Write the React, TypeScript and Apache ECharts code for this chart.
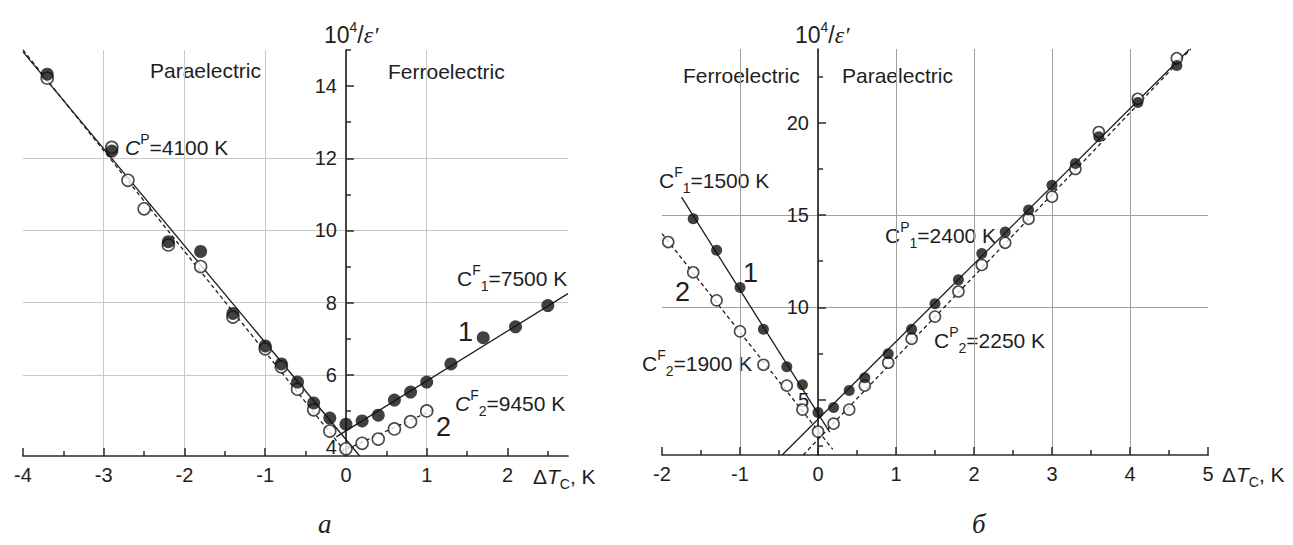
import React, { useEffect, useRef } from 'react';
import * as echarts from 'echarts';

// ---------- Panel а ----------
const aFilledX = [-3.7, -2.9, -2.2, -1.8, -1.4, -1.0, -0.8, -0.6, -0.4, -0.2, 0, 0.2, 0.4, 0.6, 0.8, 1.0, 1.3, 1.7, 2.1, 2.5];
const aFilledY = [14.33, 12.2, 9.69, 9.42, 7.7, 6.8, 6.3, 5.8, 5.22, 4.8, 4.63, 4.72, 4.88, 5.3, 5.52, 5.8, 6.3, 7.03, 7.33, 7.92];
const aOpenX = [-3.7, -2.9, -2.7, -2.5, -2.2, -1.8, -1.4, -1.0, -0.8, -0.6, -0.4, -0.2, 0, 0.2, 0.4, 0.6, 0.8, 1.0];
const aOpenY = [14.22, 12.3, 11.39, 10.6, 9.6, 9.0, 7.6, 6.72, 6.22, 5.6, 5.03, 4.44, 3.95, 4.1, 4.22, 4.5, 4.7, 5.0];
const aFitPara1 = [[-4, 14.95], [0.17, 3.75]];
const aFitPara2 = [[-4, 15.0], [-0.02, 3.9]];
const aFitFerro1 = [[-0.12, 4.28], [2.75, 8.25]];
const aFitFerro2 = [[-0.07, 3.86], [1.1, 5.05]];
const aXLabels = [-4, -3, -2, -1, 0, 1, 2];
const aXMinor = [-3.5, -2.5, -1.5, -0.5, 0.5, 1.5, 2.5];
const aYLabels = [4, 6, 8, 10, 12, 14];
const aYMinor = [5, 7, 9, 11, 13, 15];

// ---------- Panel б ----------
const bFilledX = [-1.6, -1.3, -1.0, -0.7, -0.4, -0.2, 0, 0.2, 0.4, 0.6, 0.9, 1.2, 1.5, 1.8, 2.1, 2.4, 2.7, 3.0, 3.3, 3.6, 4.1, 4.6];
const bFilledY = [14.8, 13.1, 11.08, 8.81, 6.78, 5.81, 4.3, 4.57, 5.49, 6.19, 7.49, 8.81, 10.2, 11.49, 12.92, 14.08, 15.27, 16.62, 17.8, 19.24, 21.1, 23.1];
const bOpenX = [-1.92, -1.6, -1.3, -1.0, -0.7, -0.4, -0.2, 0, 0.2, 0.4, 0.6, 0.9, 1.2, 1.5, 1.8, 2.1, 2.4, 2.7, 3.0, 3.3, 3.6, 4.1, 4.6];
const bOpenY = [13.54, 11.9, 10.38, 8.7, 6.89, 5.76, 4.46, 3.27, 3.7, 4.46, 5.76, 7.0, 8.3, 9.5, 10.86, 12.3, 13.5, 14.8, 16.0, 17.5, 19.5, 21.3, 23.5];
const bFitFerro1 = [[-1.75, 15.97], [0.15, 3.24]];
const bFitFerro2 = [[-2, 14.0], [0.19, 2.3]];
const bFitPara1 = [[-0.46, 2.0], [4.76, 23.97]];
const bFitPara2 = [[-0.19, 2.0], [4.78, 24.0]];
const bXLabels = [-2, -1, 0, 1, 2, 3, 4, 5];
const bXMinor = [-1.5, -0.5, 0.5, 1.5, 2.5, 3.5, 4.5];
const bYLabels = [5, 10, 15, 20];
const bYMinor = [2.5, 7.5, 12.5, 17.5, 22.5];

const SANS = 'Liberation Sans, Arial, sans-serif';
const SERIF = 'Liberation Serif, Times New Roman, serif';
const INK = '#1e1e1e';

const GRID_A = { left: 23, top: 50, width: 545, height: 406 };
const GRID_B = { left: 662, top: 49, width: 546, height: 406 };
const A_X = [-4, 2.75];
const A_Y = [3.75, 15];
const B_X = [-2, 5];
const B_Y = [2, 24];

const zip = (xs: number[], ys: number[]) => xs.map((x, i) => [x, ys[i]]);

const rich = {
  n: { fontSize: 21, fontFamily: SANS, fill: INK, lineHeight: 30 },
  ni: { fontSize: 21, fontFamily: SANS, fontStyle: 'italic', fill: INK, lineHeight: 30 },
  sup: { fontSize: 14, fontFamily: SANS, fill: INK, lineHeight: 14, verticalAlign: 'top' },
  sub: { fontSize: 14, fontFamily: SANS, fill: INK, lineHeight: 13, verticalAlign: 'bottom' },
  big: { fontSize: 27, fontFamily: SANS, fill: INK, lineHeight: 30 },
  ten: { fontSize: 23, fontFamily: SANS, fill: INK, lineHeight: 30 },
  eps: { fontSize: 24, fontFamily: SERIF, fontStyle: 'italic', fill: INK, lineHeight: 30 },
  cap: { fontSize: 27, fontFamily: SERIF, fontStyle: 'italic', fill: INK, lineHeight: 30 },
};

const txt = (left: number, centerY: number, text: string) => ({
  type: 'text',
  x: left,
  y: centerY - 15,
  silent: true,
  style: { text, rich, fill: INK, fontSize: 21, fontFamily: SANS },
});

const tickStyle = { color: '#2a2a2a', width: 1.5 };

function xAxisMain(gridIndex: number, ext: number[], labels: number[], gridColor: string) {
  return {
    type: 'value', gridIndex, min: ext[0], max: ext[1], position: 'bottom',
    axisLine: { show: true, onZero: false, lineStyle: { color: '#2a2a2a', width: 1.7 } },
    axisTick: { show: true, inside: true, length: 8, customValues: labels, lineStyle: tickStyle },
    axisLabel: { show: true, customValues: labels, margin: 9, fontSize: 20, fontFamily: SANS, color: INK },
    splitLine: { show: true, showMinLine: false, showMaxLine: false, lineStyle: { color: gridColor, width: 1 } },
  };
}
function xAxisMinor(gridIndex: number, ext: number[], minor: number[]) {
  return {
    type: 'value', gridIndex, min: ext[0], max: ext[1], position: 'bottom',
    axisLine: { show: false, onZero: false },
    axisTick: { show: true, inside: true, length: 5, customValues: minor, lineStyle: tickStyle },
    axisLabel: { show: false },
    splitLine: { show: false },
  };
}
// the y axis sits at x = 0 of its grid: shift it in from the grid's left edge by 0's position on the x scale
const zeroOffset = (xExt: number[], width: number) => -((0 - xExt[0]) / (xExt[1] - xExt[0])) * width;

function yAxisMain(gridIndex: number, ext: number[], labels: number[], gridColor: string, offset: number) {
  return {
    type: 'value', gridIndex, min: ext[0], max: ext[1], position: 'left', offset,
    axisLine: { show: true, onZero: false, lineStyle: { color: '#2a2a2a', width: 1.7 } },
    axisTick: { show: true, inside: true, length: 8, customValues: labels, lineStyle: tickStyle },
    axisLabel: { show: true, customValues: labels, margin: 9, fontSize: 20, fontFamily: SANS, color: INK },
    splitLine: { show: true, showMinLine: false, showMaxLine: false, lineStyle: { color: gridColor, width: 1 } },
  };
}
function yAxisMinor(gridIndex: number, ext: number[], minor: number[], offset: number) {
  return {
    type: 'value', gridIndex, min: ext[0], max: ext[1], position: 'left', offset,
    axisLine: { show: false, onZero: false },
    axisTick: { show: true, inside: true, length: 5, customValues: minor, lineStyle: tickStyle },
    axisLabel: { show: false },
    splitLine: { show: false },
  };
}

function fitLine(data: number[][], xi: number, yi: number, dashed: boolean) {
  return {
    type: 'line', xAxisIndex: xi, yAxisIndex: yi, data, symbol: 'none', silent: true, clip: false, z: 2,
    lineStyle: { color: INK, width: 1.3, type: dashed ? [4, 3] : 'solid' },
  };
}
function points(data: number[][], xi: number, yi: number, filled: boolean, size: number) {
  return {
    type: 'scatter', xAxisIndex: xi, yAxisIndex: yi, data, symbol: 'circle', symbolSize: size, silent: true, z: filled ? 4 : 3,
    itemStyle: filled
      ? { color: '#111', borderColor: '#111', borderWidth: 0 }
      : { color: '#fff', borderColor: INK, borderWidth: 1.6 },
  };
}

export default function App() {
  const ref = useRef<HTMLDivElement>(null);
  useEffect(() => {
    if (!ref.current) return;
    const chart = echarts.init(ref.current, undefined, { renderer: 'svg' });
    const offA = zeroOffset(A_X, GRID_A.width);
    const offB = zeroOffset(B_X, GRID_B.width);
    const option: any = {
      animation: false,
      backgroundColor: '#fff',
      grid: [GRID_A, GRID_B],
      xAxis: [
        xAxisMain(0, A_X, aXLabels, '#c8c8c8'),
        xAxisMinor(0, A_X, aXMinor),
        xAxisMain(1, B_X, bXLabels, '#a0a0a0'),
        xAxisMinor(1, B_X, bXMinor),
      ],
      yAxis: [
        yAxisMain(0, A_Y, aYLabels, '#c8c8c8', offA),
        yAxisMinor(0, A_Y, aYMinor, offA),
        yAxisMain(1, B_Y, bYLabels, '#a0a0a0', offB),
        yAxisMinor(1, B_Y, bYMinor, offB),
      ],
      series: [
        fitLine(aFitPara1, 0, 0, false),
        fitLine(aFitPara2, 0, 0, true),
        fitLine(aFitFerro1, 0, 0, false),
        fitLine(aFitFerro2, 0, 0, true),
        points(zip(aOpenX, aOpenY), 0, 0, false, 12),
        points(zip(aFilledX, aFilledY), 0, 0, true, 13),
        fitLine(bFitFerro1, 2, 2, false),
        fitLine(bFitFerro2, 2, 2, true),
        fitLine(bFitPara1, 2, 2, false),
        fitLine(bFitPara2, 2, 2, true),
        points(zip(bOpenX, bOpenY), 2, 2, false, 11),
        points(zip(bFilledX, bFilledY), 2, 2, true, 11),
      ],
      graphic: [
        // panel а
        txt(324, 35, '{ten|10}{sup|4}{ten|/}{eps|ε′}'),
        txt(150, 70, '{n|Paraelectric}'),
        txt(388, 71, '{n|Ferroelectric}'),
        txt(125, 147, '{ni|C}{sup|P}{n|=4100 K}'),
        txt(457, 278, '{n|C}{sup|F}{sub|1}{n|=7500 K}'),
        txt(458, 332, '{big|1}'),
        txt(455, 403, '{ni|C}{sup|F}{sub|2}{n|=9450 K}'),
        txt(436, 427, '{big|2}'),
        txt(533, 476, '{n|Δ}{ni|T}{sub|C}{n|, K}'),
        txt(318, 524, '{cap|а}'),
        // panel б
        txt(795, 35, '{ten|10}{sup|4}{ten|/}{eps|ε′}'),
        txt(683, 75, '{n|Ferroelectric}'),
        txt(842, 75, '{n|Paraelectric}'),
        txt(659, 180, '{n|C}{sup|F}{sub|1}{n|=1500 K}'),
        txt(743, 273, '{big|1}'),
        txt(675, 292, '{big|2}'),
        txt(642, 363, '{n|C}{sup|F}{sub|2}{n|=1900 K}'),
        txt(885, 235, '{n|C}{sup|P}{sub|1}{n|=2400 K}'),
        txt(934, 340, '{n|C}{sup|P}{sub|2}{n|=2250 K}'),
        txt(1222, 474, '{n|Δ}{ni|T}{sub|C}{n|, K}'),
        txt(972, 524, '{cap|б}'),
      ],
    };
    chart.setOption(option);
    return () => chart.dispose();
  }, []);
  return (
    <div
      ref={ref}
      style={{ position: 'fixed', left: 0, top: 0, width: 1293, height: 545, background: '#fff' }}
    />
  );
}
